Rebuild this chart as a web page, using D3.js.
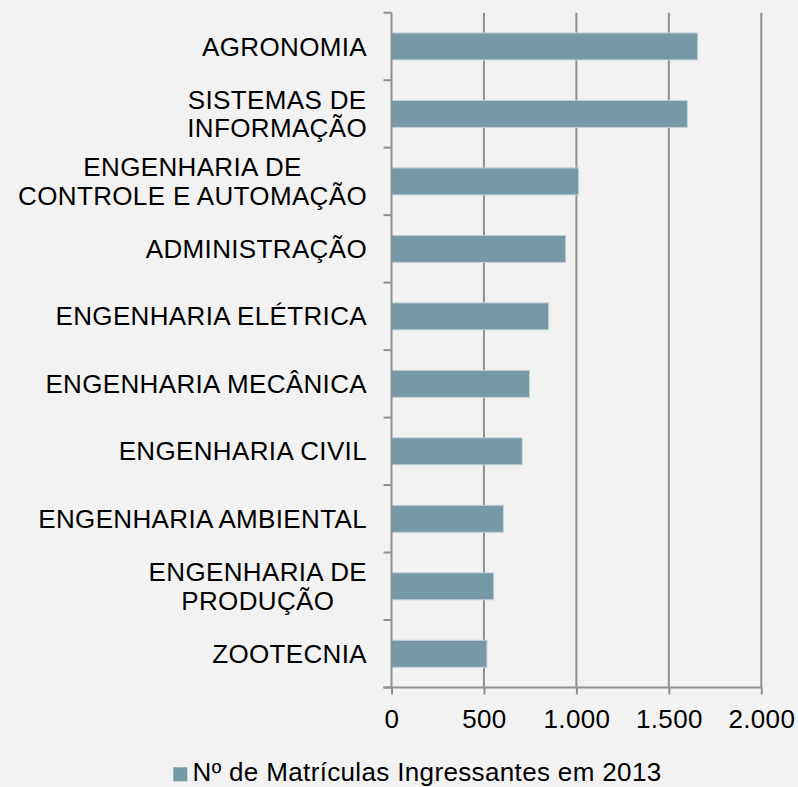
<!DOCTYPE html>
<html>
<head>
<meta charset="utf-8">
<script src="https://cdn.jsdelivr.net/npm/d3@7"></script>
<style>
  html, body { margin: 0; padding: 0; background: #f2f2f2; }
  svg { display: block; }
  text { font-family: "Liberation Sans", Arial, sans-serif; fill: #000; letter-spacing: 0.35px; }
</style>
</head>
<body>
<svg id="chart" width="798" height="787"></svg>
<script>
const categories = [
  "AGRONOMIA",
  "SISTEMAS DE\nINFORMAÇÃO",
  "ENGENHARIA DE\nCONTROLE E AUTOMAÇÃO",
  "ADMINISTRAÇÃO",
  "ENGENHARIA ELÉTRICA",
  "ENGENHARIA MECÂNICA",
  "ENGENHARIA CIVIL",
  "ENGENHARIA AMBIENTAL",
  "ENGENHARIA DE\nPRODUÇÃO",
  "ZOOTECNIA"
];
const values = [1656, 1600, 1012, 942, 850, 747, 707, 605, 553, 516];
const xTicks = [0, 500, 1000, 1500, 2000];
const seriesName = "Nº de Matrículas Ingressantes em 2013";

(function () {
const svg = d3.select("#chart");
svg.append("rect").attr("width", 798).attr("height", 787).attr("fill", "#f2f2f2");

const mLeft = 391.5, mRight = 761.3, mTop = 12.7, mBottom = 687.5;
const gridColor = "#8f8f8f";
const fontSize = 26;

const x = d3.scaleLinear().domain([0, 2000]).range([mLeft, mRight]);
const y = d3.scaleBand().domain(categories).range([mTop, mBottom])
  .paddingInner(0.6).paddingOuter(0.3);

const fmt = v => d3.format(",")(v).replace(/,/g, ".");

// vertical gridlines
svg.append("g").selectAll("line").data(xTicks.filter(d => d > 0)).join("line")
  .attr("x1", d => x(d)).attr("x2", d => x(d))
  .attr("y1", mTop).attr("y2", mBottom)
  .attr("stroke", gridColor).attr("stroke-width", 2);

// bars
svg.append("g").selectAll("rect").data(categories).join("rect")
  .attr("x", x(0))
  .attr("y", d => y(d))
  .attr("width", (d, i) => x(values[i]) - x(0))
  .attr("height", y.bandwidth())
  .attr("fill", "#7599a5")
  .attr("stroke", "#c3d2d7")
  .attr("stroke-width", 1);

// y axis line
svg.append("line")
  .attr("x1", mLeft).attr("x2", mLeft).attr("y1", mTop).attr("y2", mBottom)
  .attr("stroke", gridColor).attr("stroke-width", 2);

// y ticks at band boundaries
const boundaries = d3.range(categories.length + 1).map(i => mTop + i * y.step());
svg.append("g").selectAll("line").data(boundaries).join("line")
  .attr("x1", mLeft - 8).attr("x2", mLeft)
  .attr("y1", d => d).attr("y2", d => d)
  .attr("stroke", gridColor).attr("stroke-width", 2);

// x axis
const xAxis = d3.axisBottom(x).tickValues(xTicks).tickSize(7).tickSizeOuter(0).tickFormat(fmt);
const gx = svg.append("g").attr("transform", `translate(0,${mBottom})`).call(xAxis);
gx.select(".domain").attr("stroke", gridColor).attr("stroke-width", 2)
  .attr("d", `M${mLeft - 8},0H${mRight}`);
gx.selectAll(".tick line").attr("stroke", gridColor).attr("stroke-width", 2);
gx.selectAll(".tick text")
  .attr("y", 0).attr("dy", 0)
  .attr("transform", "translate(0,40.5)")
  .style("font-family", '"Liberation Sans", Arial, sans-serif')
  .style("font-size", fontSize + "px").attr("fill", "#000");

// category labels (multi-line, centered block, right aligned)
const labelRight = 367;
const lineH = 28.5;
const gl = svg.append("g");
categories.forEach(cat => {
  const lines = cat.split("\n");
  const cy = y(cat) + y.bandwidth() / 2;
  const t = gl.append("text").attr("text-anchor", "middle")
    .style("font-size", fontSize + "px");
  const spans = lines.map(ln => t.append("tspan").text(ln));
  let maxW = 0;
  spans.forEach(s => { maxW = Math.max(maxW, s.node().getComputedTextLength()); });
  const cx = labelRight - maxW / 2;
  const firstBase = cy - (lines.length - 1) * lineH / 2 + fontSize * 0.35;
  spans.forEach((s, i) => s.attr("x", cx).attr("y", firstBase + i * lineH));
});

// legend
const lg = svg.append("g");
lg.append("rect").attr("x", 173.3).attr("y", 767.3).attr("width", 14).attr("height", 14)
  .attr("fill", "#7599a5");
lg.append("text").attr("x", 192.5).attr("y", 780.7)
  .style("font-size", fontSize + "px").text(seriesName);
})();
</script>
</body>
</html>
